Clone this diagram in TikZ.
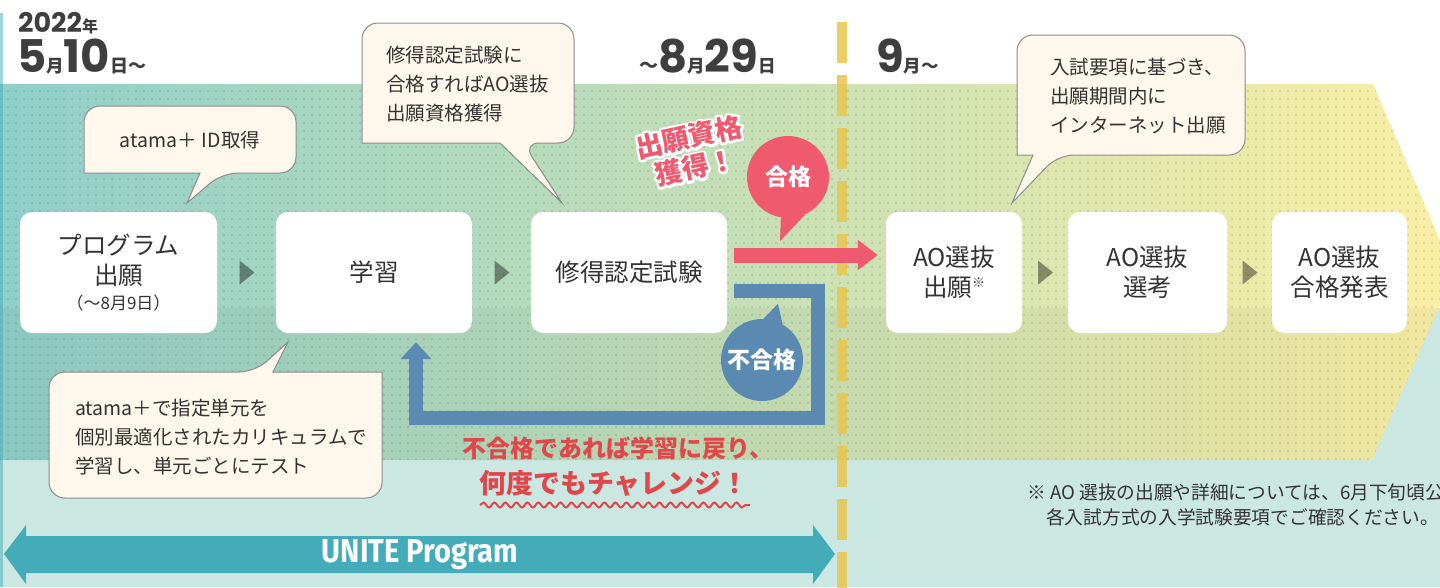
\documentclass[tikz,border=0pt]{standalone}
\usepackage{fontspec}
\setmainfont{Noto Sans CJK JP}
\newfontfamily\digitfont{Poppins}
\newfontfamily\unitefont{Fira Sans}
\usetikzlibrary{arrows.meta,calc,patterns.meta,decorations.pathmorphing}

\newcommand\strokedtext[1]{\special{pdf:literal direct 2 Tr 1 j 1 J 5 w}#1\special{pdf:literal direct 0 Tr 0 j 0 J 1 w}}

\definecolor{mint}{HTML}{CBE7E2}
\definecolor{bandL}{HTML}{8FCFC9}
\definecolor{bandM}{HTML}{CDE3B7}
\definecolor{bandR}{HTML}{FAEFA4}
\definecolor{cream}{HTML}{FDF7EC}
\definecolor{cborder}{HTML}{8C8C8C}
\definecolor{ink}{HTML}{333333}
\definecolor{dateink}{HTML}{3E3E3E}
\definecolor{passpink}{HTML}{EF5A6F}
\definecolor{failblue}{HTML}{5A8AB1}
\definecolor{retryred}{HTML}{E0474B}
\definecolor{unite}{HTML}{43ACB8}
\definecolor{dashy}{HTML}{E9C64F}

\tikzset{
  stepbox/.style={fill=white, rounded corners=12pt, minimum height=121pt, inner sep=0pt, align=center, text=ink, font=\fontsize{24.5}{30}\selectfont},
  callout/.style={fill=cream, draw=cborder, line width=1pt},
  callouttext/.style={text=ink, font=\fontsize{19.5}{29}\selectfont, inner sep=0pt, align=left},
  playtri/.style={fill=black, opacity=0.4},
  bubble/.style={circle, minimum size=82pt, inner sep=0pt, text=white, font=\fontsize{23}{23}\selectfont\bfseries},
  datetxt/.style={text=dateink, inner sep=0pt, anchor=base west},
  gaintxt/.style={rotate=12, align=center, inner sep=0pt, font=\fontsize{27}{31}\selectfont\bfseries},
}

\begin{document}
\begin{tikzpicture}[x=1pt,y=-1pt]
\useasboundingbox (0,0) rectangle (1440,587);
\clip (0,0) rectangle (1440,587);
% background
\fill[white] (0,0) rectangle (1440,587);
\fill[mint] (0,308) rectangle (1440,587);
\shade[left color=bandL, middle color=bandM, right color=bandR] (0,84) -- (1373,84) -- (1454,273) -- (1372,460) -- (0,460) -- cycle;
\fill[black, opacity=0.03] (0,308) -- (1439,308) -- (1372,460) -- (0,460) -- cycle;
\fill[pattern={Dots[distance=8pt,radius=0.8pt]}, pattern color=black, opacity=0.2] (0,84) -- (1373,84) -- (1454,273) -- (1372,460) -- (0,460) -- cycle;
\fill[unite, opacity=0.5] (0,13) rectangle (3,587);
% dashed divider
\draw[dashy, line width=10pt, opacity=0.85, dash pattern=on 41pt off 12pt] (842,22) -- (842,600);

% dates
\node[datetxt] (year) at (18,32) {{\digitfont\bfseries\fontsize{27}{27}\selectfont 2022}{\bfseries\fontsize{16}{16}\selectfont 年}};
\node[datetxt] (start) at (17,72) {{\digitfont\bfseries\fontsize{45}{45}\selectfont 5}{\bfseries\fontsize{17.5}{17.5}\selectfont 月}{\digitfont\bfseries\fontsize{45}{45}\selectfont 10}{\bfseries\fontsize{18}{18}\selectfont 日〜}};
\node[datetxt] (finish) at (639,72) {{\bfseries\fontsize{19}{19}\selectfont 〜}{\digitfont\bfseries\fontsize{45}{45}\selectfont 8}{\bfseries\fontsize{17.5}{17.5}\selectfont 月}{\digitfont\bfseries\fontsize{45}{45}\selectfont 29}{\bfseries\fontsize{17.5}{17.5}\selectfont 日}};
\node[datetxt] (sept) at (876,72) {{\digitfont\bfseries\fontsize{45}{45}\selectfont 9}{\bfseries\fontsize{17.5}{17.5}\selectfont 月〜}};

% callouts
\draw[callout] (190,106) [rounded corners=16pt] -- (296,106) -- (296,173) -- (222,173) [sharp corners] -- (187,203) -- (200,173) -- (84,173) [rounded corners=16pt] -- (84,106) -- cycle;
\node[callouttext] (ta) at (190,140) {atama＋\hspace{5pt}ID取得};

\draw[callout] (450,23) [rounded corners=16pt] -- (574,23) -- (574,143) -- (523,143) [sharp corners] -- (562,203) -- (500,143) -- (362,143) [rounded corners=16pt] -- (362,23) -- cycle;
\node[callouttext, anchor=west] (tb) at (386,84) {修得認定試験に\\合格すればAO選抜\\出願資格獲得};

\draw[callout] (1130,35) [rounded corners=16pt] -- (1245,35) -- (1245,155) -- (1058,155) [sharp corners] -- (1012,203) -- (1033,155) -- (1017,155) [rounded corners=16pt] -- (1017,35) -- cycle;
\node[callouttext, anchor=west] (tc) at (1050,96) {入試要項に基づき、\\出願期間内に\\インターネット出願};

\draw[callout] (200,498) [rounded corners=16pt] -- (49,498) -- (49,372) -- (255,372) [sharp corners] -- (288,342) -- (273,372) -- (382,372) [rounded corners=16pt] -- (382,498) -- cycle;
\node[callouttext, anchor=west] (td) at (75,437) {atama＋で指定単元を\\個別最適化されたカリキュラムで\\学習し、単元ごとにテスト};

% step boxes
\node[stepbox, minimum width=197pt] (b1) at (118.5,272.5) {プログラム\\出願\\[-5pt]{\fontsize{17}{17}\selectfont （〜8月9日）}};
\node[stepbox, minimum width=196pt] (b2) at (374,272.5) {学習};
\node[stepbox, minimum width=196pt] (b3) at (629,272.5) {修得認定試験};
\node[stepbox, minimum width=136pt] (b4) at (954,272.5) {AO選抜\\出願\raisebox{9pt}{\fontsize{13}{13}\selectfont ※}};
\node[stepbox, minimum width=159pt] (b5) at (1147.5,272.5) {AO選抜\\選考};
\node[stepbox, minimum width=135pt] (b6) at (1339.5,272.5) {AO選抜\\合格発表};

% small play triangles
\foreach \a/\b in {b1/b2,b2/b3,b4/b5,b5/b6}{
  \coordinate (m) at ($(\a.east)!0.5!(\b.west)$);
  \fill[playtri] ($(m)+(-7,-12)$) -- ($(m)+(8,0)$) -- ($(m)+(-7,12)$) -- cycle;
}

% pass arrow
\coordinate (passStart) at ($(b3.east)+(7,-17.5)$);
\coordinate (passEnd) at ($(b4.west)+(-8,-17.5)$);
\draw[passpink, line width=15pt, -{Triangle[length=20pt,width=29pt]}] (passStart) -- (passEnd);

% fail path
\coordinate (failStart) at ($(b3.east)+(7,18.5)$);
\coordinate (fc2) at (818,418);
\coordinate (failEnd) at ($(b2.south)+(42,9)$);
\draw[failblue, line width=14pt, line join=miter, -{Triangle[length=17pt,width=30pt]}] (failStart) -| (fc2) -| (failEnd);

% bubbles
\node[bubble, fill=passpink] (pass) at (788,177) {合格};
\fill[passpink] (pass.-100) -- ($(pass.south)+(-8,23)$) -- (pass.-65) -- cycle;
\node[bubble, fill=failblue] (fail) at (762,360) {不合格};
\fill[failblue] (fail.60) -- ($(fail.north)+(16,-15)$) -- (fail.88) -- cycle;

\node[gaintxt, text=white] (gainback) at (692,152) {\strokedtext{出願資格}\\\strokedtext{獲得！}};
\node[gaintxt, text=passpink] (gain) at (692,152) {出願資格\\獲得！};

% retry message
\node[text=retryred, font=\fontsize{24}{24}\selectfont\bfseries] (retry1) at (618,448) {不合格であれば学習に戻り、};
\node[text=retryred, font=\fontsize{27}{27}\selectfont\bfseries] (retry2) at (614,483) {何度でもチャレンジ！};
\draw[retryred, line width=2pt, decorate, decoration={snake, amplitude=2.5pt, segment length=11pt}] (480,505) -- (750,505);

% UNITE Program arrow
\fill[unite] (4,554) -- (26,525) -- (26,536) -- (813,536) -- (813,525) -- (835,554) -- (813,584) -- (813,573) -- (26,573) -- (26,584) -- cycle;
\node[text=white, font=\unitefont\bfseries\fontsize{33}{33}\selectfont] (uniteLabel) at (420,555) {\scalebox{0.88}[1]{UNITE Program}};

% note
\node[anchor=base west, text=ink, font=\fontsize{18.7}{25}\selectfont, inner sep=0pt] (note1) at (1027,499) {※ AO 選抜の出願や詳細については、6月下旬頃公開};
\node[anchor=base west, text=ink, font=\fontsize{18.7}{25}\selectfont, inner sep=0pt] (note2) at (1046,524) {各入試方式の入学試験要項でご確認ください。};
\end{tikzpicture}
\end{document}
